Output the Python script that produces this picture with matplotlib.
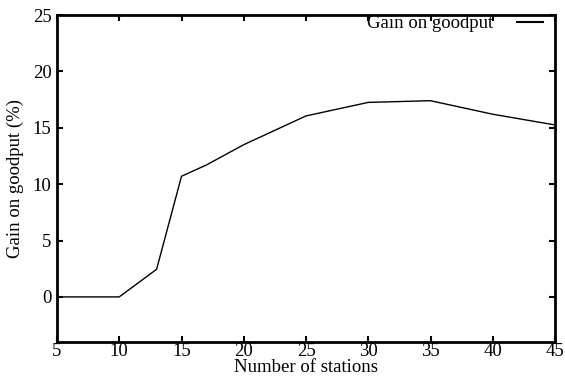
import matplotlib.pyplot as plt

plt.rcParams['font.family'] = ['Liberation Serif', 'DejaVu Serif']

stations = [5, 10, 13, 15, 17, 20, 25, 30, 35, 40, 45]
gain = [0, 0, 2.45, 10.7, 11.7, 13.5, 16.05, 17.25, 17.4, 16.2, 15.25]

fig = plt.figure(figsize=(5.65, 3.8), dpi=100)
ax = fig.add_axes([0.1009, 0.1, 0.8814, 0.8605])

ax.plot(stations, gain, color='black', linewidth=1.0, label='Gain on goodput')

ax.set_xlim(5, 45)
ax.set_ylim(-4, 25)
ax.set_xticks([5, 10, 15, 20, 25, 30, 35, 40, 45])
ax.set_yticks([0, 5, 10, 15, 20, 25])
ax.tick_params(direction='in', length=4, width=1.5, top=True, right=True,
               labelsize=13.5)
ax.tick_params(axis='x', pad=1)
ax.tick_params(axis='y', pad=4)
for s in ax.spines.values():
    s.set_linewidth(2)

ax.set_xlabel('Number of stations', fontsize=13.5, labelpad=-1)
ax.set_ylabel('Gain on goodput (%)', fontsize=13.5, labelpad=6)

# gnuplot style key: text then line sample, a bit in from the border
leg = ax.legend(loc='upper right', frameon=False, markerfirst=False,
                fontsize=13.5, handlelength=1.4, handletextpad=1.28,
                borderaxespad=0.0, borderpad=0.0,
                bbox_to_anchor=(0.976, 1.0))
leg.get_lines()[0].set_linewidth(1.5)

fig.savefig('out.png', dpi=100)
